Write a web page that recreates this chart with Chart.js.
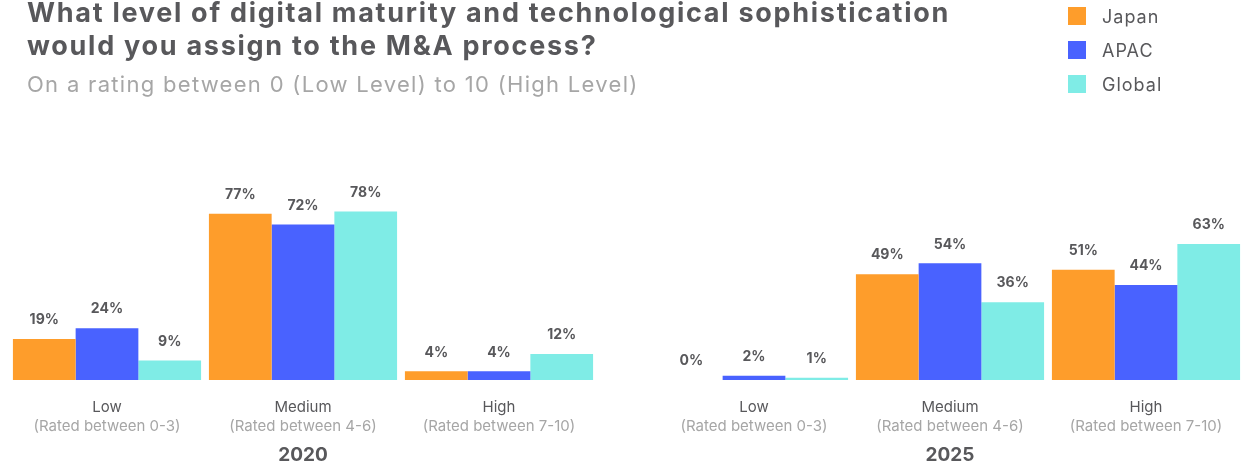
<!DOCTYPE html>
<html>
<head>
<meta charset="utf-8">
<script src="https://cdn.jsdelivr.net/npm/chart.js@4.4.1/dist/chart.umd.min.js"></script>
<style>
  html, body { margin: 0; padding: 0; background: #fff; }
  body { width: 1256px; height: 466px; position: relative; overflow: hidden; font-family: Inter, "Liberation Sans", sans-serif; }
  .head { position: absolute; left: 27px; top: -4px; z-index: 2; }
  .head h1 { margin: 0; font-size: 27px; line-height: 33px; font-weight: 700; color: #58585b; letter-spacing: 1.72px; }
  .head p { margin: 7px 0 0; font-size: 22px; line-height: 30px; color: #a6a6a6; letter-spacing: 1.3px; }
  .legend { position: absolute; left: 1068px; top: 7px; z-index: 2; }
  .legend div { height: 18px; margin-bottom: 16px; display: flex; align-items: center; font-size: 18px; color: #58585b; letter-spacing: 1px; }
  .legend span { width: 18px; height: 18px; margin-right: 16px; display: inline-block; }
  canvas { position: absolute; top: 0; }
</style>
</head>
<body>
<div class="head">
  <h1>What level of digital maturity and technological sophistication<br>would you assign to the M&amp;A process?</h1>
  <p>On a rating between 0 (Low Level) to 10 (High Level)</p>
</div>
<div class="legend" id="legend"></div>
<div style="position:absolute;left:0;top:0;width:628px;height:466px"><canvas id="c2020"></canvas></div>
<div style="position:absolute;left:628px;top:0;width:628px;height:466px"><canvas id="c2025"></canvas></div>
<script>
const levels = ["Low", "Medium", "High"];
const ranges = ["(Rated between 0-3)", "(Rated between 4-6)", "(Rated between 7-10)"];
const regions = ["Japan", "APAC", "Global"];
const colors = ["#fe9d2b", "#4962ff", "#7fece6"];

const japan2020 = [19, 77, 4];
const apac2020 = [24, 72, 4];
const global2020 = [9, 78, 12];

const japan2025 = [0, 49, 51];
const apac2025 = [2, 54, 44];
const global2025 = [1, 36, 63];

const FONT = "Inter, 'Liberation Sans', sans-serif";

// legend
const legendBox = document.getElementById("legend");
regions.forEach((r, i) => {
  const row = document.createElement("div");
  row.innerHTML = `<span style="background:${colors[i]}"></span>${r}`;
  legendBox.appendChild(row);
});

// value labels above each bar
const valueLabels = {
  id: "valueLabels",
  afterDatasetsDraw(chart) {
    const ctx = chart.ctx;
    ctx.save();
    ctx.font = "700 14px " + FONT;
    ctx.fillStyle = "#58585b";
    ctx.textAlign = "center";
    ctx.textBaseline = "middle";
    chart.data.datasets.forEach((ds, di) => {
      chart.getDatasetMeta(di).data.forEach((bar, i) => {
        ctx.fillText(ds.data[i] + "%", bar.x, bar.y - 19);
      });
    });
    ctx.restore();
  }
};

// category names, rating ranges and year under the bars
const axisLabels = {
  id: "axisLabels",
  afterDraw(chart, args, opts) {
    const ctx = chart.ctx;
    const x = chart.scales.x;
    const base = chart.chartArea.bottom;
    ctx.save();
    ctx.textAlign = "center";
    ctx.textBaseline = "middle";
    levels.forEach((lv, i) => {
      const px = x.getPixelForTick(i);
      ctx.font = "15px " + FONT;
      ctx.fillStyle = "#58585b";
      ctx.fillText(lv, px, base + 27);
      ctx.fillStyle = "#a6a6a6";
      ctx.fillText(ranges[i], px, base + 46);
    });
    ctx.font = "700 19px " + FONT;
    ctx.fillStyle = "#58585b";
    ctx.fillText(opts.year, (chart.chartArea.left + chart.chartArea.right) / 2, base + 75);
    ctx.restore();
  }
};

function makeChart(id, year, series, padLeft, padRight) {
  return new Chart(document.getElementById(id), {
    type: "bar",
    data: {
      labels: levels,
      datasets: regions.map((r, i) => ({
        label: r,
        data: series[i],
        backgroundColor: colors[i],
        borderWidth: 0,
        barPercentage: 1,
        categoryPercentage: 0.96
      }))
    },
    options: {
      responsive: true,
      maintainAspectRatio: false,
      animation: false,
      layout: { padding: { left: padLeft, right: padRight, top: 164, bottom: 86 } },
      plugins: { legend: { display: false }, tooltip: { enabled: false }, axisLabels: { year } },
      scales: {
        x: { display: false },
        y: { display: false, min: 0, max: 100 }
      }
    },
    plugins: [valueLabels, axisLabels]
  });
}

makeChart("c2020", "2020", [japan2020, apac2020, global2020], 9, 31);
makeChart("c2025", "2025", [japan2025, apac2025, global2025], 28, 12);
</script>
</body>
</html>
